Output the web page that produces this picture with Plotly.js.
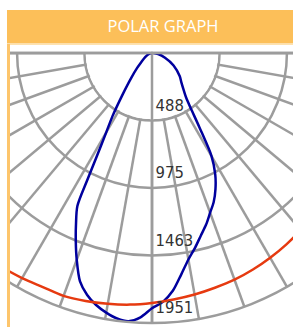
<!DOCTYPE html>
<html>
<head>
<meta charset="utf-8">
<script src="https://cdn.plot.ly/plotly-3.0.1.min.js"></script>
<style>
html,body{margin:0;padding:0;background:#fff;overflow:hidden;width:293px;height:327px;}
#chart{position:absolute;left:-128px;top:0;width:560px;height:333px;}
</style>
</head>
<body>
<div id="chart"></div>
<script>
// ---- data ----
var titleText = 'POLAR GRAPH';
var ringVals = [488, 975, 1463, 1951];
var ringLabels = ['488', '975', '1463', '1951'];
var spokeStep = 10;

// blue curve (C0 / C180 plane), angle in degrees from nadir, intensity in cd
var blueTheta = [-90,-80,-70,-60,-50,-45,-40,-35,-32,-30,-28,-27,-26,-24,-22,-20,-17.5,-15,-12.5,-10,-7.5,-5,-2.5,0,2.5,5,7.5,10,12.5,15,17.5,20,22.5,25,27.5,30,32.5,35,37.5,40,45,50,60,70,80,90];
var blueR     = [5,15,30,55,100,150,230,380,540,660,860,1030,1230,1350,1470,1590,1730,1810,1865,1905,1935,1945,1912,1845,1800,1725,1615,1515,1440,1365,1300,1228,1165,1085,990,860,640,490,405,360,300,262,180,100,45,10];

// red curve (C90 / C270 plane)
var redTheta = [-45,-40,-35,-30,-25,-20,-15,-10,-5,0,5,10,15,20,25,30,35,40,45];
var redR     = [1880,1888,1888,1878,1866,1868,1855,1840,1825,1806,1788,1772,1756,1743,1726,1708,1690,1670,1650];

// ---- styling ----
var gridColor = '#9c9c9c';
var gridW = 2.5;
var orange = '#fcbf59';
var radiusPx = 270;
var rMax = ringVals[ringVals.length - 1];

// page <-> paper helpers (plot area: 540x270, div offset -128px)
function px(x){ return (x + 128 - 10) / 540; }
function py(y){ return (323 - y) / 270; }

var maskTheta = [], maskR = [];
for (var a = -90; a <= 90; a += 1) { maskTheta.push(a); maskR.push(ringVals[0] - 10); }
maskTheta.push(0); maskR.push(0);

var labelR = ringVals.map(function(v){ return v - 100; });
var labelTheta = labelR.map(function(r){
  var rp = r / rMax * radiusPx;
  return Math.asin(3.5 / rp) * 180 / Math.PI;
});

var traces = [
  { type:'scatterpolar', mode:'lines', r:maskR, theta:maskTheta, fill:'toself',
    fillcolor:'#ffffff', line:{color:'rgba(0,0,0,0)', width:0}, hoverinfo:'skip', showlegend:false },
  { type:'scatterpolar', mode:'lines', r:[0, rMax], theta:[0,0],
    line:{color:gridColor, width:gridW}, hoverinfo:'skip', showlegend:false, cliponaxis:false },
  { type:'scatterpolar', mode:'lines', r:[rMax, 0, rMax], theta:[-90,-90,90],
    line:{color:gridColor, width:gridW}, hoverinfo:'skip', showlegend:false, cliponaxis:false },
  { type:'scatterpolar', mode:'lines', r:blueR, theta:blueTheta,
    line:{color:'#00009e', width:2.5, shape:'spline', smoothing:0.8}, hoverinfo:'skip', showlegend:false },
  { type:'scatterpolar', mode:'lines', r:redR, theta:redTheta,
    line:{color:'#e63a10', width:2.5, shape:'spline', smoothing:0.8}, hoverinfo:'skip', showlegend:false },
  { type:'scatterpolar', mode:'text', r:labelR, theta:labelTheta,
    text:ringLabels, textposition:'middle right', cliponaxis:false,
    textfont:{family:'Liberation Sans Narrow, DejaVu Sans Condensed, Roboto, sans-serif', size:16.5, color:'#333333'},
    hoverinfo:'skip', showlegend:false }
];

var layout = {
  width:560, height:333,
  margin:{l:10, r:10, t:53, b:10, pad:0},
  paper_bgcolor:'#ffffff',
  showlegend:false,
  title:{text:titleText, xref:'container', yref:'container', x:(163+128)/560, y:1-26.5/333,
         xanchor:'center', yanchor:'middle', font:{family:'Open Sans, sans-serif', size:16.5, color:'#ffffff'}},
  polar:{
    domain:{x:[0,1], y:[0,1]},
    sector:[180,360],
    bgcolor:'#ffffff',
    radialaxis:{range:[0, rMax], tickmode:'array', tickvals:ringVals,
      showticklabels:false, ticks:'', showline:false, gridcolor:gridColor, gridwidth:gridW},
    angularaxis:{rotation:-90, direction:'counterclockwise', tickmode:'linear', tick0:0, dtick:spokeStep,
      showticklabels:false, ticks:'', gridcolor:gridColor, gridwidth:gridW,
      showline:true, linecolor:gridColor, linewidth:gridW}
  },
  shapes:[
    {type:'rect', xref:'paper', yref:'paper', x0:px(-140), x1:px(7), y0:-0.2, y1:1.3,
     fillcolor:'#ffffff', line:{width:0}, layer:'above'},
    {type:'rect', xref:'paper', yref:'paper', x0:px(7), x1:px(300), y0:py(43.5), y1:py(10),
     fillcolor:orange, line:{width:0}, layer:'above'},
    {type:'line', xref:'paper', yref:'paper', x0:px(7), x1:px(300), y0:py(44.5), y1:py(44.5),
     line:{color:'#fde2b0', width:1.2}, layer:'above'},
    {type:'line', xref:'paper', yref:'paper', x0:px(8.5), x1:px(8.5), y0:py(44), y1:py(340),
     line:{color:'#fdc56c', width:3}, layer:'above'}
  ]
};

Plotly.newPlot('chart', traces, layout, {displayModeBar:false, staticPlot:true});
</script>
</body>
</html>
